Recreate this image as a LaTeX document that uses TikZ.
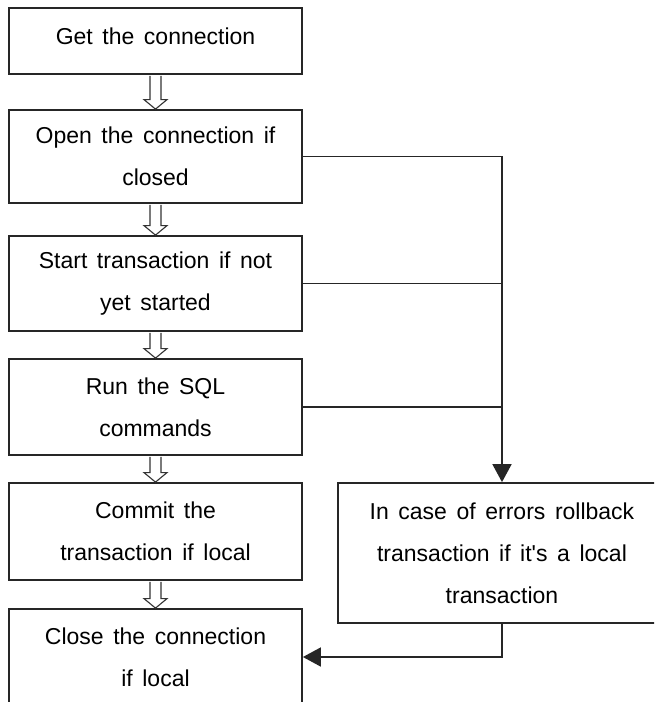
\documentclass[tikz,border=0pt]{standalone}
\usepackage{fontspec}
\setmainfont[WordSpace=1.5]{Liberation Sans}
\usetikzlibrary{arrows.meta,calc}
\newcommand\hollowarr[2]{%
  \draw[hollow] ($(#1.south)+(-5.5,0.9)$) -- ($(#2.north)+(-5.5,-9.5)$) -- ($(#2.north)+(-11.5,-9.5)$) -- (#2.north) -- ($(#2.north)+(11.5,-9.5)$) -- ($(#2.north)+(5.5,-9.5)$) -- ($(#1.south)+(5.5,0.9)$);}
\begin{document}
\begin{tikzpicture}[x=1pt,y=-1pt,
  box/.style={draw=black!85, line width=1.8pt, fill=white, minimum width=293pt, align=center,
    font=\fontsize{23}{42}\selectfont, inner sep=0pt, text=black},
  conn/.style={draw=black!85, line width=1.8pt},
  tipend/.style={-{Triangle[length=18pt,width=19pt]}},
  hollow/.style={draw=black!80, line width=1.1pt, fill=white}]
\clip (0,0) rectangle (654,702);
\fill[white] (0,0) rectangle (654,702);
\node[box, minimum height=66pt] (b1) at (155.5,41) {\raisebox{10pt}{Get the connection}};
\node[box, minimum height=93pt] (b2) at (155.5,156.5) {Open the connection if\\closed};
\node[box, minimum height=95pt] (b3) at (155.5,283.5) {Start transaction if not\\yet started};
\node[box, minimum height=96pt] (b4) at (155.5,407) {Run the SQL\\commands};
\node[box, minimum height=97pt] (b5) at (155.5,531.5) {Commit the\\transaction if local};
\node[box, minimum height=96pt] (b6) at (155.5,657) {Close the connection\\if local};
\node[box, minimum width=328pt, minimum height=140pt] (rb) at (502,553) {In case of errors rollback\\transaction if it\textquotesingle s a local\\transaction};
\hollowarr{b1}{b2}
\hollowarr{b2}{b3}
\hollowarr{b3}{b4}
\hollowarr{b4}{b5}
\hollowarr{b5}{b6}
\draw[conn,tipend] (b2.east) -| (rb.north);
\draw[conn] (b3.east) -- (b3.east -| rb.north);
\draw[conn] (b4.east) -- (b4.east -| rb.north);
\draw[conn,tipend] (rb.south) |- (b6.east);
\end{tikzpicture}
\end{document}
